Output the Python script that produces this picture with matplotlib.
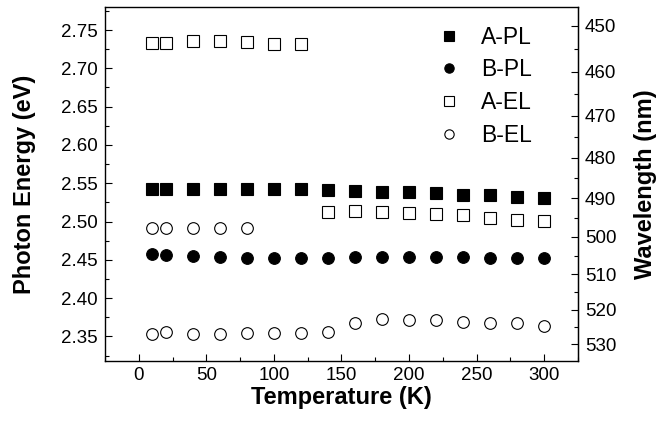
import numpy as np
import matplotlib
matplotlib.use('Agg')
import matplotlib.pyplot as plt
from matplotlib.ticker import MultipleLocator, FixedLocator, FormatStrFormatter

plt.rcParams['font.family'] = ['Liberation Sans', 'DejaVu Sans']

# data
temp_all = [10, 20, 40, 60, 80, 100, 120, 140, 160, 180, 200, 220, 240, 260, 280, 300]
a_pl = [2.543, 2.543, 2.543, 2.543, 2.543, 2.542, 2.542, 2.541, 2.540, 2.539,
        2.538, 2.537, 2.535, 2.534, 2.532, 2.531]
b_pl = [2.457, 2.456, 2.455, 2.454, 2.453, 2.452, 2.452, 2.453, 2.454, 2.454,
        2.454, 2.454, 2.454, 2.453, 2.453, 2.453]
temp_a_el_lo = [10, 20, 40, 60, 80, 100, 120]
a_el_lo = [2.733, 2.733, 2.735, 2.735, 2.734, 2.732, 2.732]
temp_a_el_hi = [140, 160, 180, 200, 220, 240, 260, 280, 300]
a_el_hi = [2.512, 2.514, 2.512, 2.511, 2.510, 2.508, 2.505, 2.502, 2.501]
temp_b_el_hi = [10, 20, 40, 60, 80]
b_el_hi = [2.491, 2.491, 2.491, 2.491, 2.491]
b_el_lo = [2.353, 2.356, 2.353, 2.353, 2.355, 2.355, 2.354, 2.356, 2.368, 2.373,
           2.371, 2.371, 2.369, 2.368, 2.367, 2.364]

HC = 1240.0
wl_ticks = [450, 460, 470, 480, 490, 500, 510, 520, 530]
wl_minor = [445, 455, 465, 475, 485, 495, 505, 515, 525, 535]

fig = plt.figure(figsize=(6.62, 4.33), dpi=100)
ax = fig.add_axes([0.1586, 0.1663, 0.7144, 0.8175])

ms = 8.4
ax.plot(temp_all, a_pl, 's', ms=ms, mfc='black', mec='black', mew=0.8, label='A-PL')
ax.plot(temp_all, b_pl, 'o', ms=ms, mfc='black', mec='black', mew=0.8, label='B-PL')
ax.plot(temp_a_el_lo, a_el_lo, 's', ms=ms, mfc='white', mec='black', mew=0.8, label='A-EL')
ax.plot(temp_a_el_hi, a_el_hi, 's', ms=ms, mfc='white', mec='black', mew=0.8)
ax.plot(temp_b_el_hi, b_el_hi, 'o', ms=ms, mfc='white', mec='black', mew=0.8, label='B-EL')
ax.plot(temp_all, b_el_lo, 'o', ms=ms, mfc='white', mec='black', mew=0.8)

ax.set_xlim(-25, 325)
ax.set_ylim(2.318, 2.78)
ax.xaxis.set_major_locator(MultipleLocator(50))
ax.xaxis.set_minor_locator(MultipleLocator(25))
ax.yaxis.set_major_locator(MultipleLocator(0.05))
ax.yaxis.set_minor_locator(MultipleLocator(0.025))
ax.yaxis.set_major_formatter(FormatStrFormatter('%.2f'))
ax.tick_params(which='both', direction='in', labelsize=13.5, top=False, right=False, width=0.8)
ax.tick_params(which='major', length=5)
ax.tick_params(which='minor', length=3)
ax.tick_params(axis='x', pad=4)
ax.tick_params(axis='y', pad=5)
for sp in ax.spines.values():
    sp.set_linewidth(1.0)

ax.set_xlabel('Temperature (K)', fontsize=17, fontweight='bold', labelpad=2)
ax.set_ylabel('Photon Energy (eV)', fontsize=17, fontweight='bold', labelpad=18)

sec = ax.secondary_yaxis('right', functions=(lambda e: HC / e, lambda w: HC / w))
sec.yaxis.set_major_locator(FixedLocator(wl_ticks))
sec.yaxis.set_minor_locator(FixedLocator(wl_minor))
sec.tick_params(which='both', direction='in', labelsize=13.5, width=0.8, pad=5)
sec.tick_params(which='major', length=5)
sec.tick_params(which='minor', length=3)
sec.set_ylabel('Wavelength (nm)', fontsize=17, fontweight='bold', labelpad=13)

ax.legend(frameon=False, loc='upper right', bbox_to_anchor=(0.947, 1.005), fontsize=16.5,
          markerscale=0.8, handletextpad=0.9, labelspacing=0.42, handlelength=1.0)

fig.savefig('out.png', dpi=100)
